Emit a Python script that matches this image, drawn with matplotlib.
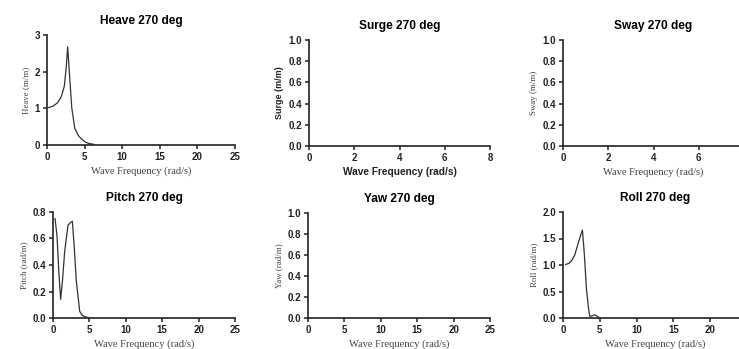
import numpy as np
import matplotlib
matplotlib.use("Agg")
import matplotlib.pyplot as plt

# values
heave_x = [0.2, 0.8, 1.4, 1.9, 2.3, 2.55, 2.75, 3.0, 3.3, 3.7, 4.2, 4.7, 5.1, 5.6, 6.2]
heave_y = [1.02, 1.06, 1.15, 1.32, 1.6, 2.1, 2.68, 1.9, 1.0, 0.45, 0.25, 0.14, 0.08, 0.04, 0.02]

pitch_x = [0.28, 0.55, 0.8, 1.05, 1.3, 1.6, 2.06, 2.4, 2.66, 2.9, 3.2, 3.67, 4.0, 4.4, 5.0]
pitch_y = [0.75, 0.62, 0.35, 0.14, 0.28, 0.5, 0.70, 0.72, 0.73, 0.55, 0.28, 0.05, 0.02, 0.01, 0.0]

roll_x = [0.36, 0.8, 1.2, 1.6, 2.0, 2.3, 2.64, 2.9, 3.18, 3.45, 3.64, 3.9, 4.3, 4.7, 5.0]
roll_y = [1.01, 1.03, 1.09, 1.19, 1.38, 1.52, 1.66, 1.2, 0.56, 0.2, 0.03, 0.04, 0.06, 0.03, 0.0]

# name, ylabel, data, xlim, xticks, ylim, yticks, ytick format, serif labels
panels = [
    ("Heave 270 deg", "Heave (m/m)", (heave_x, heave_y), 25, np.arange(0, 26, 5), 3, [0, 1, 2, 3], "{:.0f}", True),
    ("Surge 270 deg", "Surge (m/m)", None, 8, np.arange(0, 9, 2), 1, np.arange(0, 1.01, 0.2), "{:.1f}", False),
    ("Sway 270 deg", "Sway (m/m)", None, 8, np.arange(0, 7, 2), 1, np.arange(0, 1.01, 0.2), "{:.1f}", True),
    ("Pitch 270 deg", "Pitch (rad/m)", (pitch_x, pitch_y), 25, np.arange(0, 26, 5), 0.8, np.arange(0, 0.81, 0.2), "{:.1f}", True),
    ("Yaw 270 deg", "Yaw (rad/m)", None, 25, np.arange(0, 26, 5), 1, np.arange(0, 1.01, 0.2), "{:.1f}", True),
    ("Roll 270 deg", "Roll (rad/m)", (roll_x, roll_y), 25, np.arange(0, 21, 5), 2, np.arange(0, 2.01, 0.5), "{:.1f}", True),
]

# axes boxes in pixels: left, right, top, bottom
boxes = [
    (47, 235, 35, 145),
    (309, 490, 40, 146),
    (563, 744, 40, 146),
    (53, 235, 212, 318),
    (308, 490, 213, 318),
    (563, 747, 212, 318),
]

W, H = 739, 349
fig = plt.figure(figsize=(W / 100, H / 100), dpi=100)

for (title, ylab, data, xmax, xt, ymax, yt, fmt, serif), (l, r, t, b) in zip(panels, boxes):
    ax = fig.add_axes([l / W, 1 - b / H, (r - l) / W, (b - t) / H])
    if data is not None:
        ax.plot(data[0], data[1], color="#333333", lw=0.9)
    ax.set_xlim(0, xmax)
    ax.set_ylim(0, ymax)
    ax.set_xticks(xt)
    ax.set_yticks(yt)
    ax.set_yticklabels([fmt.format(v) for v in yt])
    for s in ["top", "right"]:
        ax.spines[s].set_visible(False)
    for s in ["left", "bottom"]:
        ax.spines[s].set_linewidth(1.2)
        ax.spines[s].set_color("#222222")
    ax.tick_params(length=3, width=1.1, colors="#222222", labelsize=7, pad=2)
    for lab in ax.get_xticklabels() + ax.get_yticklabels():
        lab.set_fontfamily("Liberation Sans")
        lab.set_fontweight("bold")
    ax.set_title(title, fontsize=8.6, fontweight="bold", family="Liberation Sans", pad=8)
    if serif:
        xkw = dict(fontsize=7.6, family="Liberation Serif", color="#444444")
        ykw = dict(fontsize=6.4, family="Liberation Serif", color="#444444")
    else:
        xkw = dict(fontsize=7.3, family="Liberation Sans", fontweight="bold", color="#222222")
        ykw = dict(fontsize=6.5, family="Liberation Sans", fontweight="bold", color="#222222")
    ax.set_xlabel("Wave Frequency (rad/s)", labelpad=3, **xkw)
    ax.set_ylabel(ylab, labelpad=3, **ykw)

fig.savefig("out.png", dpi=100)
